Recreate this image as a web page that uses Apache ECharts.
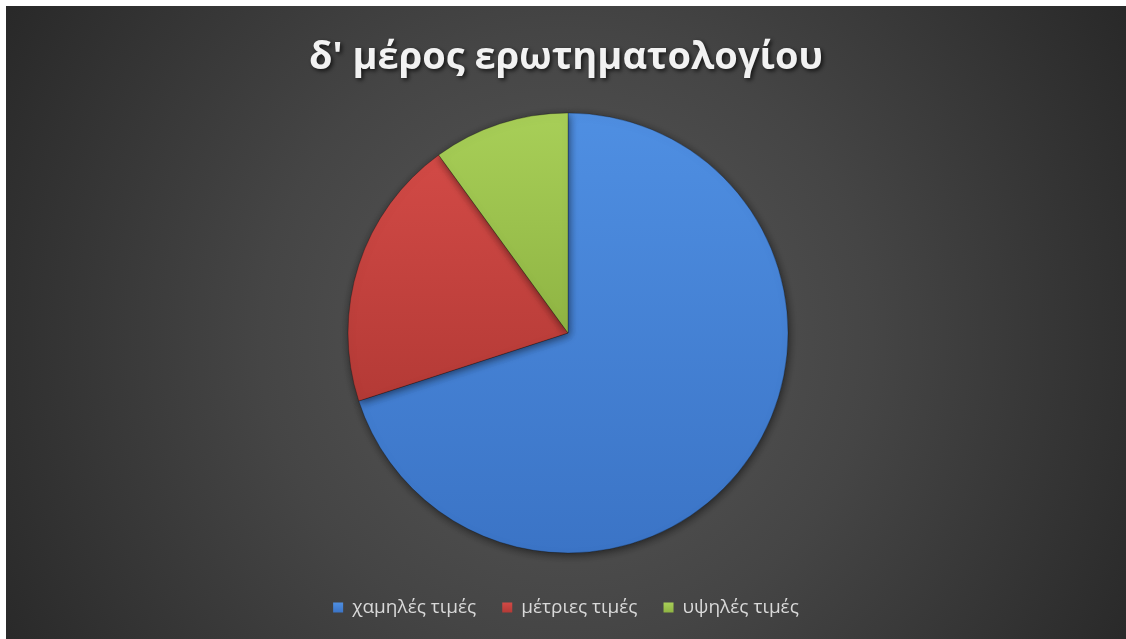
<!DOCTYPE html>
<html>
<head>
<meta charset="utf-8">
<script src="https://cdn.jsdelivr.net/npm/echarts@6/dist/echarts.min.js"></script>
<style>
  html, body { margin: 0; padding: 0; background: #ffffff; }
  #chart { position: absolute; left: 6px; top: 6px; width: 1120px; height: 633px; }
</style>
</head>
<body>
<div id="chart"></div>
<script>
// Questionnaire part D: share of responses per score band
const titleText = "δ' μέρος ερωτηματολογίου";
const categories = ['χαμηλές τιμές', 'μέτριες τιμές', 'υψηλές τιμές'];
const values = [70, 20, 10];
const palette = [
  ['#4f8fe2', '#3b74c6'],
  ['#d24a46', '#b43a36'],
  ['#a8cf58', '#8fb443']
];

const chart = echarts.init(document.getElementById('chart'));

const seriesData = categories.map((name, i) => ({
  name: name,
  value: values[i],
  itemStyle: {
    color: new echarts.graphic.LinearGradient(0, 0, 0, 1, [
      { offset: 0, color: palette[i][0] },
      { offset: 1, color: palette[i][1] }
    ])
  }
}));

chart.setOption({
  backgroundColor: 'transparent',
  graphic: [{
    type: 'rect',
    z: -10,
    silent: true,
    shape: { x: 0, y: 0, width: 1120, height: 633 },
    style: {
      fill: new echarts.graphic.RadialGradient(560, 330, 680, [
        { offset: 0, color: '#595959' },
        { offset: 0.45, color: '#454545' },
        { offset: 1, color: '#262626' }
      ], true)
    }
  }],
  title: {
    text: titleText,
    left: 'center',
    top: 28,
    textStyle: {
      fontFamily: 'Open Sans',
      fontWeight: 'bold',
      fontSize: 38,
      color: '#f2f2f2',
      textShadowColor: 'rgba(0,0,0,0.7)',
      textShadowBlur: 4,
      textShadowOffsetX: 2,
      textShadowOffsetY: 2
    }
  },
  legend: {
    data: categories,
    bottom: 17,
    left: 'center',
    icon: 'rect',
    itemWidth: 10,
    itemHeight: 10,
    itemGap: 26,
    itemStyle: { borderWidth: 0 },
    textStyle: {
      fontFamily: 'Open Sans',
      fontSize: 19,
      color: '#d9d9d9',
      padding: [0, 0, 0, 4]
    }
  },
  series: [{
    type: 'pie',
    center: [562, 327],
    radius: 220,
    startAngle: 90,
    clockwise: true,
    label: { show: false },
    labelLine: { show: false },
    silent: true,
    animation: false,
    itemStyle: {
      borderColor: 'rgba(0,0,0,0.25)',
      borderWidth: 1,
      shadowColor: 'rgba(0,0,0,0.55)',
      shadowBlur: 8,
      shadowOffsetX: 1,
      shadowOffsetY: 2
    },
    data: seriesData
  }]
});
</script>
</body>
</html>
